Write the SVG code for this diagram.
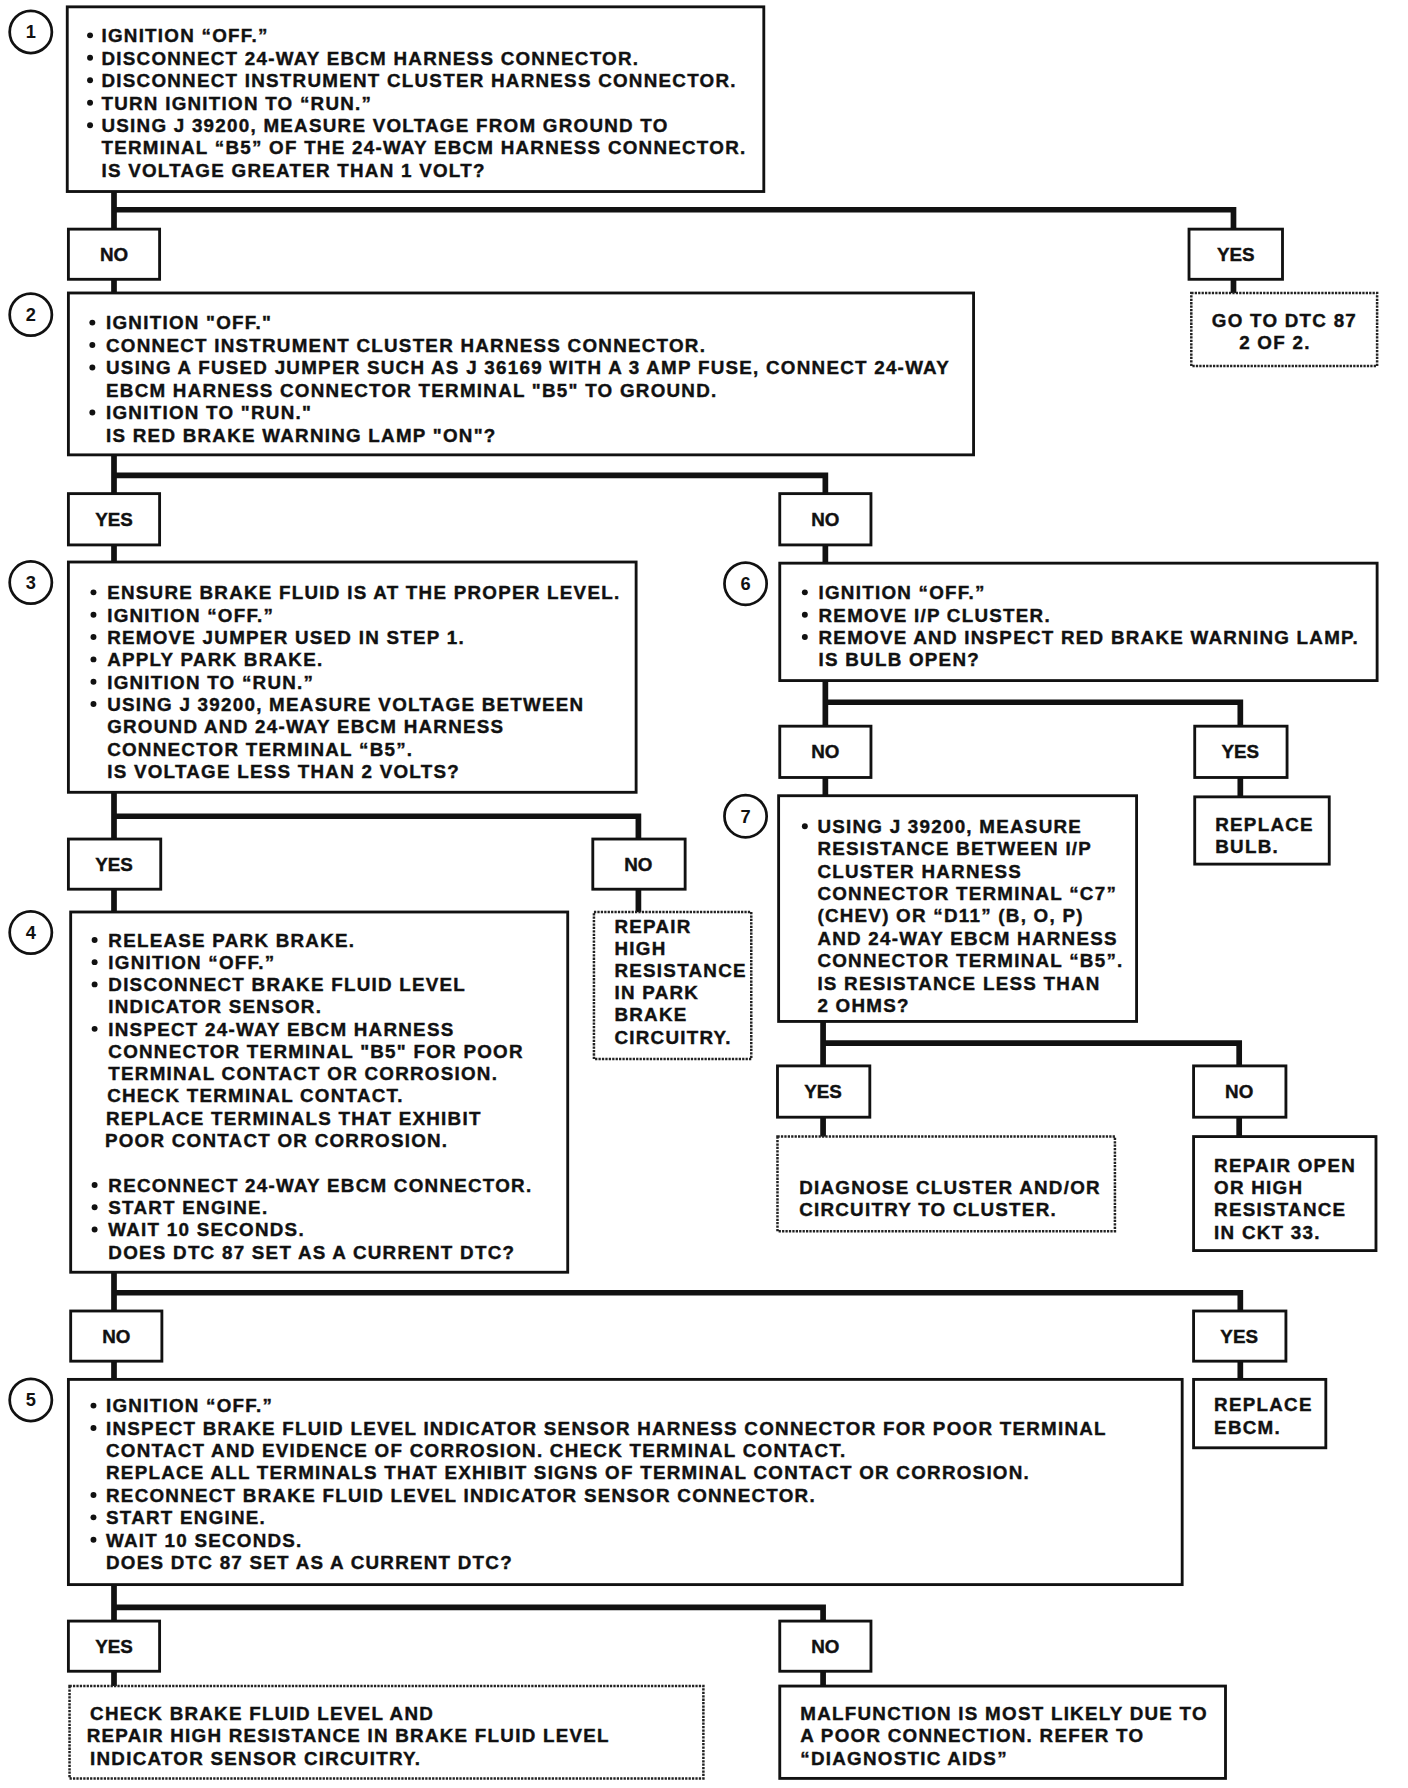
<svg xmlns="http://www.w3.org/2000/svg" width="1408" height="1788" viewBox="0 0 1408 1788">
<style>
.t{font-family:"Liberation Sans",Arial,Helvetica,sans-serif;font-weight:bold;font-size:16.5px;letter-spacing:1.1px;fill:#111;stroke:#111;stroke-width:0.35}
.c{font-family:"Liberation Sans",Arial,Helvetica,sans-serif;font-weight:bold;font-size:16px;fill:#111;text-anchor:middle}
.l{font-family:"Liberation Sans",Arial,Helvetica,sans-serif;font-weight:bold;font-size:16.5px;fill:#111;stroke:#111;stroke-width:0.35;text-anchor:middle}
.box{fill:#fff;stroke:#111;stroke-width:2.5}
.dbox{fill:#fff;stroke:#222;stroke-width:2.2;stroke-dasharray:2 1}
.conn{stroke:#111;stroke-width:5;fill:none;stroke-linecap:square}
.num{fill:#fff;stroke:#111;stroke-width:2.4}
.b{fill:#111}
</style>
<rect width="1408" height="1788" fill="#fff"/>
<g transform="scale(1.140)">
<g id="connectors">
<path class="conn" d="M100,168V201M100,184H1082V201M100,245V257M1082,245V257"/>
<path class="conn" d="M100,400V433M100,417H724V433M100,478V492M724,478V492"/>
<path class="conn" d="M100,694V736M100,716H560V736M100,780V800M560,780V800"/>
<path class="conn" d="M724,596V636M724,616H1088V636M724,680V697M1088,680V697"/>
<path class="conn" d="M722,895V935M722,915H1087V935M722,980V997M1087,980V997"/>
<path class="conn" d="M100,1116V1150M100,1134H1088V1150M100,1193V1210M1088,1193V1210"/>
<path class="conn" d="M100,1390V1422M100,1410H722V1422M100,1466V1479M722,1466V1479"/>
</g>

<g id="step1">
<circle class="num" cx="27" cy="28" r="18.5"/><text class="c" x="27" y="33.5">1</text>
<rect class="box" x="59" y="6" width="611" height="162"/>
<circle class="b" cx="79" cy="31" r="2.6"/><text class="t" x="89" y="37">IGNITION “OFF.”</text>
<circle class="b" cx="79" cy="50.7" r="2.6"/><text class="t" x="89" y="56.7">DISCONNECT 24-WAY EBCM HARNESS CONNECTOR.</text>
<circle class="b" cx="79" cy="70.4" r="2.6"/><text class="t" x="89" y="76.4">DISCONNECT INSTRUMENT CLUSTER HARNESS CONNECTOR.</text>
<circle class="b" cx="79" cy="90.1" r="2.6"/><text class="t" x="89" y="96.1">TURN IGNITION TO “RUN.”</text>
<circle class="b" cx="79" cy="109.8" r="2.6"/><text class="t" x="89" y="115.8">USING J 39200, MEASURE VOLTAGE FROM GROUND TO</text>
<text class="t" x="89" y="135.5">TERMINAL “B5” OF THE 24-WAY EBCM HARNESS CONNECTOR.</text>
<text class="t" x="89" y="155.2">IS VOLTAGE GREATER THAN 1 VOLT?</text>
</g>

<g id="no1"><rect class="box" x="60" y="201" width="80" height="44"/><text class="l" x="100" y="229">NO</text></g>
<g id="yes1"><rect class="box" x="1043" y="201" width="82" height="44"/><text class="l" x="1084" y="229">YES</text></g>
<g id="goto"><rect class="dbox" x="1045" y="257" width="163" height="64"/>
<text class="t" x="1063" y="287">GO TO DTC 87</text><text class="t" x="1087" y="306">2 OF 2.</text></g>

<g id="step2">
<circle class="num" cx="27" cy="276" r="18.5"/><text class="c" x="27" y="281.5">2</text>
<rect class="box" x="60" y="257" width="794" height="142"/>
<circle class="b" cx="81" cy="283" r="2.6"/><text class="t" x="93" y="289">IGNITION "OFF."</text>
<circle class="b" cx="81" cy="302.7" r="2.6"/><text class="t" x="93" y="308.7">CONNECT INSTRUMENT CLUSTER HARNESS CONNECTOR.</text>
<circle class="b" cx="81" cy="322.4" r="2.6"/><text class="t" x="93" y="328.4">USING A FUSED JUMPER SUCH AS J 36169 WITH A 3 AMP FUSE, CONNECT 24-WAY</text>
<text class="t" x="93" y="348.1">EBCM HARNESS CONNECTOR TERMINAL "B5" TO GROUND.</text>
<circle class="b" cx="81" cy="361.8" r="2.6"/><text class="t" x="93" y="367.8">IGNITION TO "RUN."</text>
<text class="t" x="93" y="387.5">IS RED BRAKE WARNING LAMP "ON"?</text>
</g>

<g id="yes2"><rect class="box" x="60" y="433" width="80" height="45"/><text class="l" x="100" y="461">YES</text></g>
<g id="no2"><rect class="box" x="684" y="433" width="80" height="45"/><text class="l" x="724" y="461">NO</text></g>

<g id="step3">
<circle class="num" cx="27" cy="511" r="18.5"/><text class="c" x="27" y="516.5">3</text>
<rect class="box" x="60" y="493" width="498" height="202"/>
<circle class="b" cx="82" cy="519.6" r="2.6"/><text class="t" x="94" y="525.6">ENSURE BRAKE FLUID IS AT THE PROPER LEVEL.</text>
<circle class="b" cx="82" cy="539.2" r="2.6"/><text class="t" x="94" y="545.2">IGNITION “OFF.”</text>
<circle class="b" cx="82" cy="558.8" r="2.6"/><text class="t" x="94" y="564.8">REMOVE JUMPER USED IN STEP 1.</text>
<circle class="b" cx="82" cy="578.4" r="2.6"/><text class="t" x="94" y="584.4">APPLY PARK BRAKE.</text>
<circle class="b" cx="82" cy="598" r="2.6"/><text class="t" x="94" y="604">IGNITION TO “RUN.”</text>
<circle class="b" cx="82" cy="617.6" r="2.6"/><text class="t" x="94" y="623.6">USING J 39200, MEASURE VOLTAGE BETWEEN</text>
<text class="t" x="94" y="643.2">GROUND AND 24-WAY EBCM HARNESS</text>
<text class="t" x="94" y="662.8">CONNECTOR TERMINAL “B5”.</text>
<text class="t" x="94" y="682.4">IS VOLTAGE LESS THAN 2 VOLTS?</text>
</g>

<g id="step6">
<circle class="num" cx="654" cy="512" r="18.5"/><text class="c" x="654" y="517.5">6</text>
<rect class="box" x="684" y="494" width="524" height="103"/>
<circle class="b" cx="706" cy="519.6" r="2.6"/><text class="t" x="718" y="525.6">IGNITION “OFF.”</text>
<circle class="b" cx="706" cy="539.2" r="2.6"/><text class="t" x="718" y="545.2">REMOVE I/P CLUSTER.</text>
<circle class="b" cx="706" cy="558.8" r="2.6"/><text class="t" x="718" y="564.8">REMOVE AND INSPECT RED BRAKE WARNING LAMP.</text>
<text class="t" x="718" y="584.4">IS BULB OPEN?</text>
</g>

<g id="no6"><rect class="box" x="684" y="637" width="80" height="45"/><text class="l" x="724" y="665">NO</text></g>
<g id="yes6"><rect class="box" x="1048" y="637" width="81" height="45"/><text class="l" x="1088" y="665">YES</text></g>
<g id="bulb"><rect class="box" x="1048" y="699" width="118" height="59"/>
<text class="t" x="1066" y="729">REPLACE</text><text class="t" x="1066" y="748">BULB.</text></g>

<g id="step7">
<circle class="num" cx="654" cy="716" r="18.5"/><text class="c" x="654" y="721.5">7</text>
<rect class="box" x="683" y="698" width="314" height="198"/>
<circle class="b" cx="706" cy="724.8" r="2.6"/><text class="t" x="717" y="730.8">USING J 39200, MEASURE</text>
<text class="t" x="717" y="750.4">RESISTANCE BETWEEN I/P</text>
<text class="t" x="717" y="770">CLUSTER HARNESS</text>
<text class="t" x="717" y="789.6">CONNECTOR TERMINAL “C7”</text>
<text class="t" x="717" y="809.2">(CHEV) OR “D11” (B, O, P)</text>
<text class="t" x="717" y="828.8">AND 24-WAY EBCM HARNESS</text>
<text class="t" x="717" y="848.4">CONNECTOR TERMINAL “B5”.</text>
<text class="t" x="717" y="868">IS RESISTANCE LESS THAN</text>
<text class="t" x="717" y="887.6">2 OHMS?</text>
</g>

<g id="yes3"><rect class="box" x="60" y="736" width="81" height="44"/><text class="l" x="100" y="764">YES</text></g>
<g id="no3"><rect class="box" x="520" y="736" width="81" height="44"/><text class="l" x="560" y="764">NO</text></g>
<g id="repairpark"><rect class="dbox" x="521" y="800" width="138" height="129"/>
<text class="t" x="539" y="818">REPAIR</text><text class="t" x="539" y="837.5">HIGH</text><text class="t" x="539" y="857">RESISTANCE</text>
<text class="t" x="539" y="876.5">IN PARK</text><text class="t" x="539" y="896">BRAKE</text><text class="t" x="539" y="915.5">CIRCUITRY.</text></g>

<g id="step4">
<circle class="num" cx="27" cy="818" r="18.5"/><text class="c" x="27" y="823.5">4</text>
<rect class="box" x="62" y="800" width="436" height="316"/>
<circle class="b" cx="83" cy="824.5" r="2.6"/><text class="t" x="95" y="830.5">RELEASE PARK BRAKE.</text>
<circle class="b" cx="83" cy="844" r="2.6"/><text class="t" x="95" y="850">IGNITION “OFF.”</text>
<circle class="b" cx="83" cy="863.5" r="2.6"/><text class="t" x="95" y="869.5">DISCONNECT BRAKE FLUID LEVEL</text>
<text class="t" x="95" y="889">INDICATOR SENSOR.</text>
<circle class="b" cx="83" cy="902.5" r="2.6"/><text class="t" x="95" y="908.5">INSPECT 24-WAY EBCM HARNESS</text>
<text class="t" x="95" y="928">CONNECTOR TERMINAL "B5" FOR POOR</text>
<text class="t" x="95" y="947.5">TERMINAL CONTACT OR CORROSION.</text>
<text class="t" x="94" y="967">CHECK TERMINAL CONTACT.</text>
<text class="t" x="93" y="986.5">REPLACE TERMINALS THAT EXHIBIT</text>
<text class="t" x="92" y="1006">POOR CONTACT OR CORROSION.</text>
<circle class="b" cx="83" cy="1039.5" r="2.6"/><text class="t" x="95" y="1045.5">RECONNECT 24-WAY EBCM CONNECTOR.</text>
<circle class="b" cx="83" cy="1059" r="2.6"/><text class="t" x="95" y="1065">START ENGINE.</text>
<circle class="b" cx="83" cy="1078.5" r="2.6"/><text class="t" x="95" y="1084.5">WAIT 10 SECONDS.</text>
<text class="t" x="95" y="1104">DOES DTC 87 SET AS A CURRENT DTC?</text>
</g>

<g id="yes7"><rect class="box" x="682" y="935" width="81" height="45"/><text class="l" x="722" y="963">YES</text></g>
<g id="no7"><rect class="box" x="1047" y="935" width="81" height="45"/><text class="l" x="1087" y="963">NO</text></g>
<g id="diagnose"><rect class="dbox" x="682" y="997" width="296" height="83"/>
<text class="t" x="701" y="1047">DIAGNOSE CLUSTER AND/OR</text><text class="t" x="701" y="1066.5">CIRCUITRY TO CLUSTER.</text></g>
<g id="repairopen"><rect class="box" x="1047" y="997" width="160" height="100"/>
<text class="t" x="1065" y="1028">REPAIR OPEN</text><text class="t" x="1065" y="1047.5">OR HIGH</text>
<text class="t" x="1065" y="1067">RESISTANCE</text><text class="t" x="1065" y="1086.5">IN CKT 33.</text></g>

<g id="no4"><rect class="box" x="62" y="1150" width="80" height="44"/><text class="l" x="102" y="1178">NO</text></g>
<g id="yes4"><rect class="box" x="1047" y="1150" width="81" height="44"/><text class="l" x="1087" y="1178">YES</text></g>
<g id="ebcm"><rect class="box" x="1047" y="1210" width="116" height="60"/>
<text class="t" x="1065" y="1238">REPLACE</text><text class="t" x="1065" y="1257.5">EBCM.</text></g>

<g id="step5">
<circle class="num" cx="27" cy="1228" r="18.5"/><text class="c" x="27" y="1233.5">5</text>
<rect class="box" x="60" y="1210" width="977" height="180"/>
<circle class="b" cx="82" cy="1233" r="2.6"/><text class="t" x="93" y="1239">IGNITION “OFF.”</text>
<circle class="b" cx="82" cy="1252.6" r="2.6"/><text class="t" x="93" y="1258.6">INSPECT BRAKE FLUID LEVEL INDICATOR SENSOR HARNESS CONNECTOR FOR POOR TERMINAL</text>
<text class="t" x="93" y="1278.2">CONTACT AND EVIDENCE OF CORROSION. CHECK TERMINAL CONTACT.</text>
<text class="t" x="93" y="1297.8">REPLACE ALL TERMINALS THAT EXHIBIT SIGNS OF TERMINAL CONTACT OR CORROSION.</text>
<circle class="b" cx="82" cy="1311.4" r="2.6"/><text class="t" x="93" y="1317.4">RECONNECT BRAKE FLUID LEVEL INDICATOR SENSOR CONNECTOR.</text>
<circle class="b" cx="82" cy="1331" r="2.6"/><text class="t" x="93" y="1337">START ENGINE.</text>
<circle class="b" cx="82" cy="1350.6" r="2.6"/><text class="t" x="93" y="1356.6">WAIT 10 SECONDS.</text>
<text class="t" x="93" y="1376.2">DOES DTC 87 SET AS A CURRENT DTC?</text>
</g>

<g id="yes5"><rect class="box" x="60" y="1422" width="80" height="44"/><text class="l" x="100" y="1450">YES</text></g>
<g id="no5"><rect class="box" x="684" y="1422" width="80" height="44"/><text class="l" x="724" y="1450">NO</text></g>
<g id="checkfluid"><rect class="dbox" x="61" y="1479" width="556" height="81"/>
<text class="t" x="79" y="1509">CHECK BRAKE FLUID LEVEL AND</text>
<text class="t" x="76" y="1528.5">REPAIR HIGH RESISTANCE IN BRAKE FLUID LEVEL</text>
<text class="t" x="79" y="1548">INDICATOR SENSOR CIRCUITRY.</text></g>
<g id="malfunction"><rect class="box" x="684" y="1479" width="391" height="81"/>
<text class="t" x="702" y="1509">MALFUNCTION IS MOST LIKELY DUE TO</text>
<text class="t" x="702" y="1528.5">A POOR CONNECTION. REFER TO</text>
<text class="t" x="702" y="1548">“DIAGNOSTIC AIDS”</text></g>
</g>
</svg>
